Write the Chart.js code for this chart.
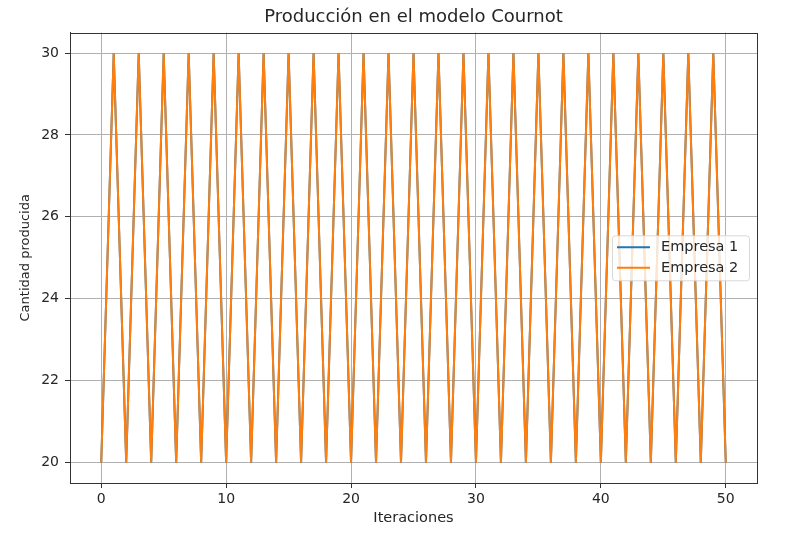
<!DOCTYPE html>
<html>
<head>
<meta charset="utf-8">
<script src="https://cdn.jsdelivr.net/npm/chart.js@4.4.1/dist/chart.umd.min.js"></script>
<style>
html,body{margin:0;padding:0;background:#fff;}
#wrap{width:801px;height:536px;}
</style>
</head>
<body>
<div id="wrap"><canvas id="c" width="801" height="536"></canvas></div>
<script>
const iterations = [0,1,2,3,4,5,6,7,8,9,10,11,12,13,14,15,16,17,18,19,20,21,22,23,24,25,26,27,28,29,30,31,32,33,34,35,36,37,38,39,40,41,42,43,44,45,46,47,48,49,50];
const empresa1 = [20,30,20,30,20,30,20,30,20,30,20,30,20,30,20,30,20,30,20,30,20,30,20,30,20,30,20,30,20,30,20,30,20,30,20,30,20,30,20,30,20,30,20,30,20,30,20,30,20,30,20];
const empresa2 = [20,30,20,30,20,30,20,30,20,30,20,30,20,30,20,30,20,30,20,30,20,30,20,30,20,30,20,30,20,30,20,30,20,30,20,30,20,30,20,30,20,30,20,30,20,30,20,30,20,30,20];
const xTicks = [0,10,20,30,40,50];
const yTicks = [20,22,24,26,28,30];
const seriesLabels = ["Empresa 1","Empresa 2"];
const seriesColors = ["#1f77b4","#ff7f0e"];

const FONT = "'DejaVu Sans', sans-serif";

const framePlugin = {
  id: 'frame',
  afterDatasetsDraw(chart) {
    const {ctx, chartArea: a} = chart;
    ctx.save();
    ctx.strokeStyle = '#333';
    ctx.lineWidth = 1;
    ctx.strokeRect(Math.round(a.left)+0.5, Math.round(a.top)+0.5, Math.round(a.right-a.left), Math.round(a.bottom-a.top));
    ctx.restore();
  },
  afterDraw(chart) {
    const {ctx, chartArea: a} = chart;
    const w = 137, h = 45;
    const x = a.right - 8 - w;
    const y = (a.top + a.bottom)/2 - h/2;
    ctx.save();
    ctx.globalAlpha = 0.8;
    ctx.fillStyle = '#fff';
    ctx.strokeStyle = '#d0d0d0';
    ctx.lineWidth = 1;
    ctx.beginPath();
    if (ctx.roundRect) ctx.roundRect(x+0.5, y+0.5, w, h, 3); else ctx.rect(x+0.5,y+0.5,w,h);
    ctx.fill();
    ctx.stroke();
    ctx.globalAlpha = 1;
    ctx.font = '14.5px ' + FONT;
    ctx.textBaseline = 'middle';
    chart.data.datasets.forEach((ds, i) => {
      const cy = y + 12 + i*20.5;
      ctx.strokeStyle = ds.borderColor;
      ctx.lineWidth = 2;
      ctx.beginPath();
      ctx.moveTo(x + 5, cy);
      ctx.lineTo(x + 38, cy);
      ctx.stroke();
      ctx.fillStyle = '#262626';
      ctx.fillText(ds.label, x + 49, cy);
    });
    ctx.restore();
  }
};

new Chart(document.getElementById('c'), {
  type: 'line',
  data: {
    datasets: [
      {label: seriesLabels[0], order: 1, data: iterations.map((x,i)=>({x, y: empresa1[i]})), borderColor: seriesColors[0], backgroundColor: seriesColors[0], borderWidth: 2, pointRadius: 0, tension: 0, fill: false},
      {label: seriesLabels[1], order: 0, data: iterations.map((x,i)=>({x, y: empresa2[i]})), borderColor: seriesColors[1], backgroundColor: seriesColors[1], borderWidth: 2, pointRadius: 0, tension: 0, fill: false}
    ]
  },
  options: {
    responsive: false,
    animation: false,
    devicePixelRatio: 1,
    layout: {padding: {left: 18, right: 44, top: 0, bottom: 9}},
    plugins: {
      legend: {display: false},
      tooltip: {enabled: false},
      title: {
        display: true,
        fullSize: false,
        text: 'Producción en el modelo Cournot',
        color: '#262626',
        font: {family: FONT, size: 18, weight: 'normal'},
        padding: {top: 7, bottom: 4}
      }
    },
    scales: {
      x: {
        type: 'linear',
        min: -2.5, max: 52.5,
        afterBuildTicks: s => { s.ticks = xTicks.map(v=>({value:v})); },
        afterFit: s => { s.height = 44; },
        grid: {color: '#b0b0b0', lineWidth: 1, tickLength: 5, tickColor: '#333', drawOnChartArea: true},
        border: {color: '#333', width: 1},
        ticks: {color: '#262626', font: {family: FONT, size: 14}, padding: 3, maxRotation: 0},
        title: {display: true, text: 'Iteraciones', color: '#262626', font: {family: FONT, size: 14.5}, padding: {top: 2, bottom: 0}}
      },
      y: {
        type: 'linear',
        min: 19.5, max: 30.5,
        afterBuildTicks: s => { s.ticks = yTicks.map(v=>({value:v})); },
        afterFit: s => { s.width = 52; },
        grid: {color: '#b0b0b0', lineWidth: 1, tickLength: 5, tickColor: '#333', drawOnChartArea: true},
        border: {color: '#333', width: 1},
        ticks: {color: '#262626', font: {family: FONT, size: 14}, padding: 6},
        title: {display: true, text: 'Cantidad producida', color: '#262626', font: {family: FONT, size: 13}, padding: {top: 0, bottom: 0}}
      }
    }
  },
  plugins: [framePlugin]
});
</script>
</body>
</html>
